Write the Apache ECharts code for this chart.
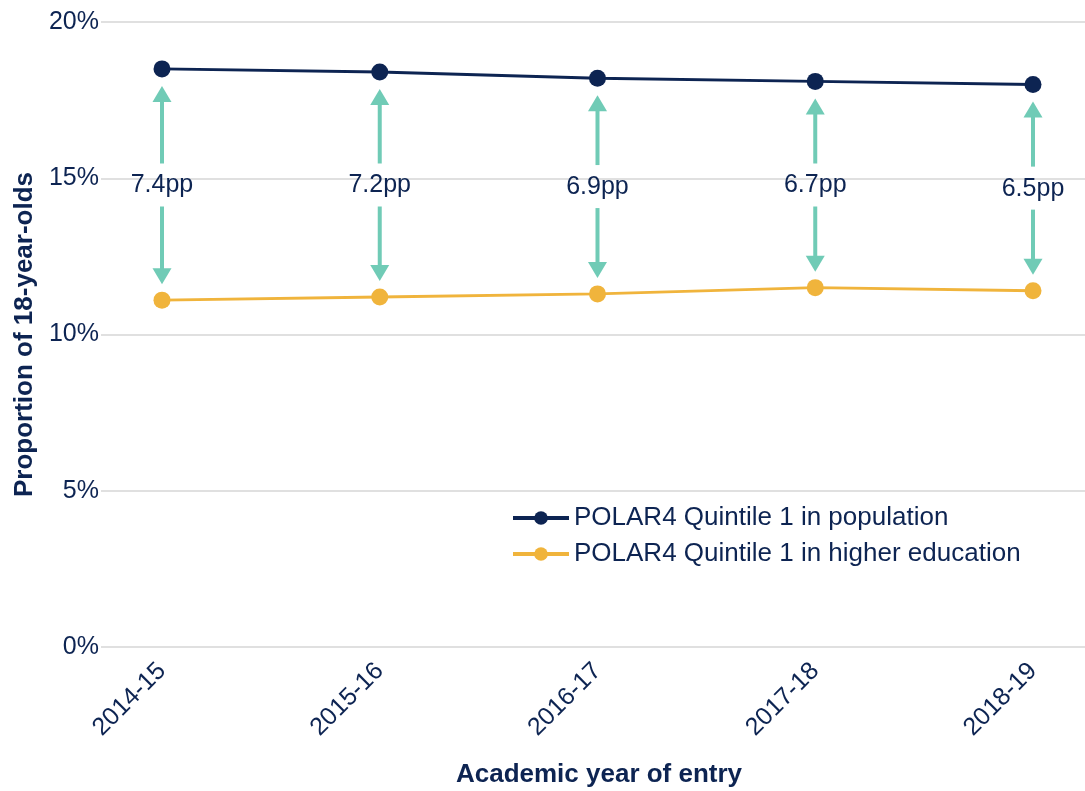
<!DOCTYPE html>
<html>
<head>
<meta charset="utf-8">
<script src="https://cdn.jsdelivr.net/npm/echarts@6/dist/echarts.min.js"></script>
<style>html,body{margin:0;padding:0;background:#fff;}#c{width:1085px;height:791px;}</style>
</head>
<body>
<div id="c"></div>
<script>
const years = ['2014-15', '2015-16', '2016-17', '2017-18', '2018-19'];
const population = [18.5, 18.4, 18.2, 18.1, 18.0];
const higherEd = [11.1, 11.2, 11.3, 11.5, 11.4];
const gapLabels = ['7.4pp', '7.2pp', '6.9pp', '6.7pp', '6.5pp'];
const yTicks = [0, 5, 10, 15, 20];

const NAVY = '#0d2452';
const GOLD = '#f0b43c';
const TEAL = '#70cbb6';
const FONT = '"Liberation Sans", Arial, sans-serif';

const chart = echarts.init(document.getElementById('c'));

const popData = population.map((v, i) => [i, v]);
const heData = higherEd.map((v, i) => [i, v]);
const gapData = years.map((y, i) => [i, population[i], higherEd[i], gapLabels[i]]);

function renderGap(params, api) {
  const i = api.value(0);
  const top = api.coord([i, api.value(1)]);
  const bot = api.coord([i, api.value(2)]);
  const x = top[0];
  const mid = (top[1] + bot[1]) / 2;
  const hw = 9.5, hh = 16, sw = 4;
  const topTip = top[1] + 17;
  const botTip = bot[1] - 16;
  return {
    type: 'group',
    children: [
      { type: 'polygon', shape: { points: [[x, topTip], [x - hw, topTip + hh], [x + hw, topTip + hh]] }, style: { fill: TEAL } },
      { type: 'rect', shape: { x: x - sw / 2, y: topTip + hh - 1, width: sw, height: (mid - 21) - (topTip + hh - 1) }, style: { fill: TEAL } },
      { type: 'rect', shape: { x: x - sw / 2, y: mid + 22, width: sw, height: (botTip - hh + 1) - (mid + 22) }, style: { fill: TEAL } },
      { type: 'polygon', shape: { points: [[x, botTip], [x - hw, botTip - hh], [x + hw, botTip - hh]] }, style: { fill: TEAL } },
      { type: 'text', x: x, y: mid + 1, style: { text: api.value(3), fill: NAVY, font: '25px ' + FONT, align: 'center', verticalAlign: 'middle' } }
    ]
  };
}

chart.setOption({
  animation: false,
  backgroundColor: '#ffffff',
  textStyle: { fontFamily: FONT },
  grid: { left: 101, right: 0, top: 22, bottom: 144, containLabel: false, outerBoundsMode: 'none' },
  legend: {
    orient: 'vertical',
    left: 506,
    top: 500,
    itemWidth: 56,
    itemHeight: 17,
    itemGap: 10,
    lineStyle: { width: 4 },
    textStyle: { fontSize: 26, color: NAVY, fontFamily: FONT },
    data: ['POLAR4 Quintile 1 in population', 'POLAR4 Quintile 1 in higher education']
  },
  xAxis: {
    type: 'value',
    min: -0.2801,
    max: 4.2388,
    name: 'Academic year of entry',
    nameLocation: 'middle',
    nameGap: 115,
    nameTextStyle: { fontSize: 26, fontWeight: 'bold', color: NAVY, fontFamily: FONT, padding: [0, 0, 0, 12] },
    axisLine: { show: false },
    axisTick: { show: false },
    splitLine: { show: false },
    axisLabel: {
      customValues: [0, 1, 2, 3, 4],
      formatter: v => years[Math.round(v)],
      rotate: 45,
      margin: 20,
      fontSize: 25,
      color: NAVY,
      fontFamily: FONT
    }
  },
  yAxis: {
    type: 'value',
    min: 0,
    max: 20,
    interval: 5,
    name: 'Proportion of 18-year-olds',
    nameLocation: 'middle',
    nameGap: 61,
    nameTextStyle: { fontSize: 26, fontWeight: 'bold', color: NAVY, fontFamily: FONT },
    axisLine: { show: false },
    axisTick: { show: false },
    splitLine: { lineStyle: { color: '#d6d6d6', width: 1.5 } },
    axisLabel: {
      formatter: v => yTicks.includes(v) ? v + '%' : '',
      margin: 2,
      fontSize: 25,
      color: NAVY,
      fontFamily: FONT
    }
  },
  series: [
    {
      name: 'POLAR4 Quintile 1 in population',
      type: 'line',
      data: popData,
      symbol: 'circle',
      symbolSize: 17,
      lineStyle: { color: NAVY, width: 3 },
      itemStyle: { color: NAVY },
      z: 3
    },
    {
      name: 'POLAR4 Quintile 1 in higher education',
      type: 'line',
      data: heData,
      symbol: 'circle',
      symbolSize: 17,
      lineStyle: { color: GOLD, width: 3 },
      itemStyle: { color: GOLD },
      z: 3
    },
    {
      name: 'gap',
      type: 'custom',
      data: gapData,
      renderItem: renderGap,
      z: 4,
      silent: true
    }
  ]
});
</script>
</body>
</html>
